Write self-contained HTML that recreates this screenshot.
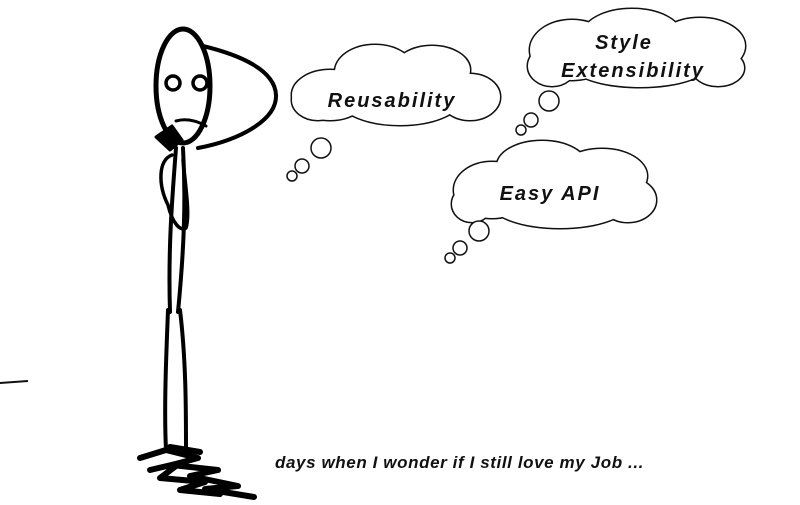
<!DOCTYPE html>
<html><head><meta charset="utf-8"><style>
html,body{margin:0;padding:0;background:#fff;}
svg{display:block;}
.t{font-family:"Liberation Sans",sans-serif;font-weight:bold;font-style:italic;fill:#111;}
</style></head><body>
<svg width="800" height="505" viewBox="0 0 800 505">
<rect width="800" height="505" fill="#fff"/>
<line x1="0" y1="383" x2="28" y2="381" stroke="#111" stroke-width="2"/>

<g>
 <g stroke="#111" stroke-width="3" fill="none">
  <ellipse cx="330" cy="95" rx="38" ry="25"/><ellipse cx="375" cy="72" rx="40" ry="27"/><ellipse cx="432" cy="70" rx="38" ry="24"/><ellipse cx="470" cy="97" rx="30" ry="23"/><ellipse cx="400" cy="100" rx="60" ry="25"/><ellipse cx="318" cy="100" rx="26" ry="20"/>
 </g>
 <g fill="#fff">
  <ellipse cx="330" cy="95" rx="38" ry="25"/><ellipse cx="375" cy="72" rx="40" ry="27"/><ellipse cx="432" cy="70" rx="38" ry="24"/><ellipse cx="470" cy="97" rx="30" ry="23"/><ellipse cx="400" cy="100" rx="60" ry="25"/><ellipse cx="318" cy="100" rx="26" ry="20"/>
 </g>
 <g stroke="#111" stroke-width="1.5" fill="#fff"><circle cx="321" cy="148" r="10"/><circle cx="302" cy="166" r="7"/><circle cx="292" cy="176" r="5"/></g>
 <text class="t" x="392" y="107" font-size="20" text-anchor="middle" letter-spacing="2">Reusability</text>
</g>

<g>
 <g stroke="#111" stroke-width="3" fill="none">
  <ellipse cx="572" cy="50" rx="42" ry="30"/><ellipse cx="632" cy="36" rx="50" ry="27"/><ellipse cx="700" cy="46" rx="45" ry="28"/><ellipse cx="718" cy="68" rx="26" ry="18"/><ellipse cx="640" cy="63" rx="70" ry="24"/><ellipse cx="552" cy="66" rx="24" ry="20"/>
 </g>
 <g fill="#fff">
  <ellipse cx="572" cy="50" rx="42" ry="30"/><ellipse cx="632" cy="36" rx="50" ry="27"/><ellipse cx="700" cy="46" rx="45" ry="28"/><ellipse cx="718" cy="68" rx="26" ry="18"/><ellipse cx="640" cy="63" rx="70" ry="24"/><ellipse cx="552" cy="66" rx="24" ry="20"/>
 </g>
 <g stroke="#111" stroke-width="1.5" fill="#fff"><circle cx="549" cy="101" r="10"/><circle cx="531" cy="120" r="7"/><circle cx="521" cy="130" r="5"/></g>
 <text class="t" x="624" y="49" font-size="20" text-anchor="middle" letter-spacing="2">Style</text>
 <text class="t" x="633" y="77" font-size="20" text-anchor="middle" letter-spacing="2">Extensibility</text>
</g>

<g>
 <g stroke="#111" stroke-width="3" fill="none">
  <ellipse cx="492" cy="190" rx="38" ry="28"/><ellipse cx="542" cy="166" rx="45" ry="25"/><ellipse cx="602" cy="176" rx="45" ry="27"/><ellipse cx="628" cy="200" rx="28" ry="22"/><ellipse cx="560" cy="202" rx="70" ry="26"/><ellipse cx="472" cy="204" rx="20" ry="18"/>
 </g>
 <g fill="#fff">
  <ellipse cx="492" cy="190" rx="38" ry="28"/><ellipse cx="542" cy="166" rx="45" ry="25"/><ellipse cx="602" cy="176" rx="45" ry="27"/><ellipse cx="628" cy="200" rx="28" ry="22"/><ellipse cx="560" cy="202" rx="70" ry="26"/><ellipse cx="472" cy="204" rx="20" ry="18"/>
 </g>
 <g stroke="#111" stroke-width="1.5" fill="#fff"><circle cx="479" cy="231" r="10"/><circle cx="460" cy="248" r="7"/><circle cx="450" cy="258" r="5"/></g>
 <text class="t" x="550" y="200" font-size="20" text-anchor="middle" letter-spacing="2">Easy API</text>
</g>

<g stroke="#000" stroke-linecap="round" stroke-linejoin="round" fill="none">
 <path d="M203,46 C240,55 275,70 276,95 C277,120 240,140 198,148" stroke-width="4" fill="#fff"/>
 <ellipse cx="183" cy="86" rx="27" ry="57" stroke-width="5" fill="#fff"/>
 <circle cx="173" cy="83" r="7" stroke-width="3.5"/>
 <circle cx="200" cy="83" r="7" stroke-width="3.5"/>
 <path d="M176,121 Q190,117 206,126" stroke-width="3"/>
 <path d="M156,137 L172,126 L182,140 L170,150 Z" fill="#000" stroke-width="3"/>
 <path d="M176,148 C172,200 168,250 170,312" stroke-width="4"/>
 <path d="M183,148 C186,200 184,250 178,312" stroke-width="4"/>
 <path d="M172,155 C158,160 158,185 168,205 C172,222 180,232 186,228 C190,215 186,190 183,160" stroke-width="3.5"/>
 <path d="M168,310 C166,360 164,410 166,450" stroke-width="4"/>
 <path d="M180,310 C186,360 186,410 186,448" stroke-width="4"/>
 <g stroke-width="6">
  <path d="M140,458 L166,450 L198,458 L172,465 L218,470 L190,476 L238,486 L205,489 L254,497"/>
  <path d="M150,470 L180,463 L160,478 L205,482 L180,490 L220,494"/>
  <path d="M170,447 L200,452"/>
 </g>
</g>

<text class="t" x="275" y="468" font-size="17" letter-spacing="0.6">days when I wonder if I still love my Job ...</text>
</svg>
</body></html>
